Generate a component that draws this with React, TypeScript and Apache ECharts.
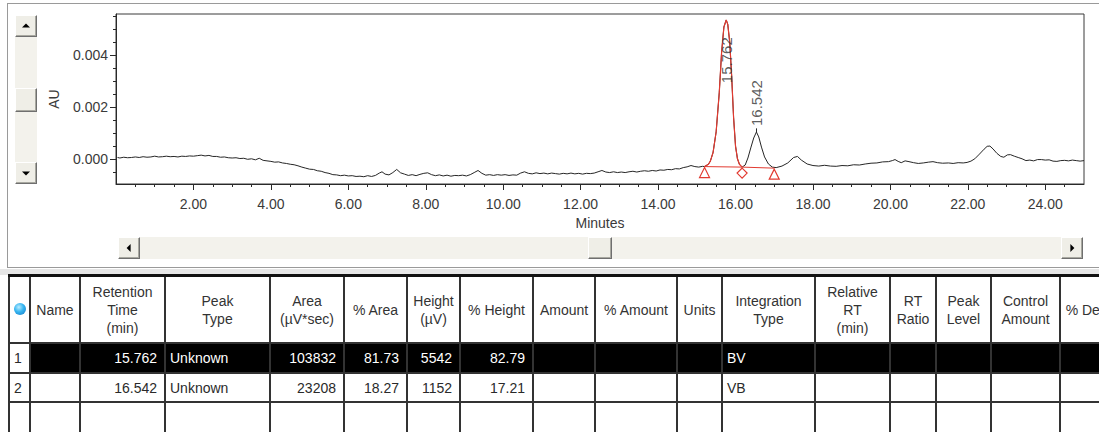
import React, { useEffect, useRef } from "react";
import * as echarts from "echarts";

// ---------- chromatogram data: [minutes, AU] ----------
const tracePoints: [number, number][] = [
  [0.04, 0.00006], [0.1, 0.00004], [0.2, 0.00007], [0.3, 0.00005], [0.4, 0.00006], [0.5, 0.00008], [0.6, 0.00006],
  [0.7, 0.00009], [0.8, 0.00007], [0.9, 0.00008], [1.0, 0.00011], [1.1, 0.00008], [1.2, 0.00009], [1.3, 0.00011],
  [1.4, 0.00009], [1.5, 0.0001], [1.6, 0.00008], [1.7, 0.00011], [1.8, 0.0001], [1.9, 0.00012], [2.0, 0.00011],
  [2.1, 0.00013], [2.2, 0.00015], [2.3, 0.00012], [2.4, 0.00014], [2.5, 0.0001], [2.6, 0.0001], [2.7, 0.00007],
  [2.8, 0.00008], [2.9, 0.00005], [3.0, 0.00004], [3.1, 0.00005], [3.2, 0.00002], [3.3, 0.00003], [3.4, -0.00001],
  [3.5, 0.00001], [3.6, -0.00003], [3.7, 0.00003], [3.8, -0.00005], [3.9, -0.00007], [4.0, -0.00009], [4.1, -0.00012],
  [4.2, -0.00011], [4.3, -0.00015], [4.4, -0.00017], [4.5, -0.0002], [4.6, -0.00022], [4.7, -0.00026], [4.8, -0.00031],
  [4.9, -0.00035], [5.0, -0.00039], [5.1, -0.0004], [5.2, -0.00045], [5.3, -0.00047], [5.4, -0.00052], [5.5, -0.00055],
  [5.6, -0.0006], [5.7, -0.00061], [5.8, -0.00064], [5.9, -0.00062], [6.0, -0.00065], [6.1, -0.00064], [6.2, -0.00067],
  [6.3, -0.00066], [6.4, -0.00068], [6.5, -0.00064], [6.6, -0.00067], [6.7, -0.00063], [6.8, -0.00054], [6.87, -0.00049],
  [6.95, -0.00058], [7.05, -0.00061], [7.15, -0.00052], [7.25, -0.0004], [7.35, -0.00053], [7.45, -0.00058], [7.55, -0.00063],
  [7.65, -0.0006], [7.75, -0.00064], [7.85, -0.00059], [7.95, -0.00055], [8.05, -0.00053], [8.15, -0.0006], [8.25, -0.00064],
  [8.35, -0.00061], [8.45, -0.00065], [8.55, -0.00062], [8.65, -0.00066], [8.75, -0.00063], [8.85, -0.00064], [8.95, -0.00062],
  [9.05, -0.00065], [9.15, -0.0006], [9.25, -0.00052], [9.35, -0.00044], [9.45, -0.00055], [9.55, -0.00062], [9.65, -0.0006],
  [9.75, -0.00063], [9.85, -0.0006], [9.95, -0.00062], [10.05, -0.0006], [10.15, -0.00063], [10.25, -0.00061], [10.35, -0.00062],
  [10.45, -0.00054], [10.55, -0.00049], [10.65, -0.00055], [10.75, -0.00057], [10.85, -0.00053], [10.95, -0.00056], [11.05, -0.00054],
  [11.15, -0.00057], [11.25, -0.00054], [11.35, -0.00056], [11.45, -0.00058], [11.55, -0.00055], [11.65, -0.00057], [11.75, -0.00054],
  [11.85, -0.00057], [11.95, -0.00055], [12.05, -0.00058], [12.15, -0.00055], [12.25, -0.00056], [12.35, -0.00054], [12.45, -0.00049],
  [12.55, -0.00044], [12.65, -0.0005], [12.75, -0.00052], [12.85, -0.00049], [12.95, -0.00052], [13.05, -0.0005], [13.15, -0.00052],
  [13.25, -0.00049], [13.35, -0.00047], [13.45, -0.0005], [13.55, -0.00047], [13.65, -0.00045], [13.75, -0.00047], [13.85, -0.00044],
  [13.95, -0.00046], [14.05, -0.00042], [14.15, -0.00043], [14.25, -0.0004], [14.35, -0.00041], [14.45, -0.00037], [14.55, -0.00038],
  [14.65, -0.00033], [14.75, -0.0003], [14.85, -0.00025], [14.95, -0.00029], [15.05, -0.00031], [15.15, -0.00028], [15.2, -0.00029],
  [15.3, -0.0002], [15.35, -0.00008], [15.42, 0.00025], [15.5, 0.00105], [15.58, 0.00255], [15.64, 0.0041], [15.7, 0.00508],
  [15.76, 0.00535], [15.8, 0.00518], [15.85, 0.0045], [15.9, 0.0032], [15.95, 0.0016], [16.0, 0.0005], [16.05, 0.00001],
  [16.1, -0.0002], [16.17, -0.00031], [16.25, -0.00023], [16.32, 0.00004], [16.4, 0.00046], [16.47, 0.00081], [16.54, 0.00104],
  [16.6, 0.00085], [16.67, 0.00046], [16.75, 0.00008], [16.85, -0.00019], [16.95, -0.00031], [17.05, -0.00033], [17.2, -0.00027],
  [17.35, -0.00015], [17.5, 0.00006], [17.6, 0.0001], [17.7, -0.00004], [17.85, -0.00019], [18.0, -0.00025], [18.15, -0.00027],
  [18.3, -0.00024], [18.45, -0.00027], [18.6, -0.00028], [18.75, -0.00025], [18.9, -0.00026], [19.05, -0.00022], [19.2, -0.00023],
  [19.35, -0.00019], [19.5, -0.00016], [19.65, -0.00015], [19.8, -0.00011], [19.95, -0.0001], [20.05, -0.00006], [20.12, -0.00002],
  [20.2, -0.00009], [20.28, -0.00014], [20.38, -0.00007], [20.48, -0.0001], [20.6, -0.00014], [20.72, -0.00017], [20.85, -0.00015],
  [20.98, -0.00012], [21.1, -0.0001], [21.22, -0.00014], [21.35, -0.00016], [21.5, -0.00015], [21.62, -0.00017], [21.75, -0.00014],
  [21.88, -0.00015], [21.98, -0.00013], [22.08, -0.00008], [22.18, 0.00001], [22.3, 0.00019], [22.42, 0.00038], [22.5, 0.00049],
  [22.57, 0.0005], [22.65, 0.00039], [22.75, 0.00022], [22.85, 0.0001], [22.93, 0.00007], [23.02, 0.00016], [23.1, 0.00017],
  [23.2, 0.00011], [23.3, 0.00006], [23.4, 0.00001], [23.5, -0.00006], [23.6, -0.00004], [23.7, -0.00007], [23.8, -0.00002],
  [23.9, -0.00002], [24.0, -0.00004], [24.1, -0.00003], [24.2, -0.00008], [24.3, -0.00009], [24.4, -0.00006], [24.5, -0.00005],
  [24.6, -0.00007], [24.7, -0.00004], [24.8, -0.00006], [24.9, -0.00008], [25.0, -0.00006],
];

const peakRT = [15.762, 16.542];
const peakApexAU = [0.00535, 0.00104];
const apexTickTopAU = [0.0056, 0.00118];
const peakLabelAU = [0.00292, 0.00127];
const integratedStart = 15.2;
const integratedEnd = 16.17;
const baselineTimes = [15.2, 16.17, 17.0];
const baselineAU = [-0.00029, -0.00031, -0.00035];
const baselineSymbols = ["triangle", "diamond", "triangle"];

const xMajorTicks = [2, 4, 6, 8, 10, 12, 14, 16, 18, 20, 22, 24];
const xMinorTicks = [
  0.5, 1, 1.5, 2.5, 3, 3.5, 4.5, 5, 5.5, 6.5, 7, 7.5, 8.5, 9, 9.5, 10.5, 11, 11.5, 12.5, 13, 13.5,
  14.5, 15, 15.5, 16.5, 17, 17.5, 18.5, 19, 19.5, 20.5, 21, 21.5, 22.5, 23, 23.5, 24.5,
];
const yMajorTicks = [0, 0.002, 0.004];
const yMinorTicks = [-0.0005, 0.0005, 0.001, 0.0015, 0.0025, 0.003, 0.0035, 0.0045, 0.005, 0.0055];

// ---------- peak table data ----------
const headerLabels = [
  "", "Name", "Retention\nTime\n(min)", "Peak\nType", "Area\n(µV*sec)", "% Area", "Height\n(µV)", "% Height",
  "Amount", "% Amount", "Units", "Integration\nType", "Relative\nRT\n(min)", "RT\nRatio", "Peak\nLevel",
  "Control\nAmount", "% Deviation",
];
const peakTypes = ["Unknown", "Unknown"];
const areas = [103832, 23208];
const pctAreas = [81.73, 18.27];
const heights = [5542, 1152];
const pctHeights = [82.79, 17.21];
const integrationTypes = ["BV", "VB"];

const FONT = '"Liberation Sans", Arial, sans-serif';
const RED = "#e23a30";
const colEdges = [9, 30, 80, 165, 270, 344, 407, 460, 533, 595, 677, 722, 815, 890, 936, 991, 1060, 1146];
const rowEdges = [275, 343, 373, 402, 432];
const colAlign = ["left", "left", "right", "left", "right", "right", "right", "right", "right", "right", "left", "left", "right", "right", "right", "right", "right"];

function Arrow({ dir }: { dir: string }) {
  const s = 4;
  const st: any = { width: 0, height: 0, position: "absolute", left: "50%", top: "50%" };
  if (dir === "up") Object.assign(st, { borderLeft: `${s}px solid transparent`, borderRight: `${s}px solid transparent`, borderBottom: `${s}px solid #000`, transform: "translate(-50%,-60%)" });
  if (dir === "down") Object.assign(st, { borderLeft: `${s}px solid transparent`, borderRight: `${s}px solid transparent`, borderTop: `${s}px solid #000`, transform: "translate(-50%,-40%)" });
  if (dir === "left") Object.assign(st, { borderTop: `${s}px solid transparent`, borderBottom: `${s}px solid transparent`, borderRight: `${s}px solid #000`, transform: "translate(-60%,-50%)" });
  if (dir === "right") Object.assign(st, { borderTop: `${s}px solid transparent`, borderBottom: `${s}px solid transparent`, borderLeft: `${s}px solid #000`, transform: "translate(-40%,-50%)" });
  return <div style={st} />;
}

function Btn({ x, y, w, h, dir }: { x: number; y: number; w: number; h: number; dir?: string }) {
  return (
    <div
      style={{
        position: "absolute", left: x, top: y, width: w, height: h, boxSizing: "border-box",
        background: "#efeee7", borderTop: "1px solid #fff", borderLeft: "1px solid #fff",
        borderRight: "1px solid #6f6f6f", borderBottom: "1px solid #6f6f6f",
        boxShadow: "inset -1px -1px 0 #a8a8a0",
      }}
    >
      {dir ? <Arrow dir={dir} /> : null}
    </div>
  );
}

function Chart() {
  const ref = useRef<HTMLDivElement>(null);
  useEffect(() => {
    if (!ref.current) return;
    const chart = echarts.init(ref.current, undefined, { renderer: "svg" });
    const traceData = tracePoints.map((p) => [p[0], p[1]]);
    const integratedData = traceData.filter((d) => d[0] >= integratedStart && d[0] <= integratedEnd);
    const axisColor = "#2a2a2a";
    const labelColor = "#3a3a3a";
    chart.setOption({
      animation: false,
      textStyle: { fontFamily: FONT },
      grid: { left: 116, right: 15, top: 14, height: 170, show: true, borderColor: "#3a3a3a", borderWidth: 1 },
      xAxis: [
        {
          type: "value", min: 0, max: 25,
          name: "Minutes", nameLocation: "middle", nameGap: 32,
          nameTextStyle: { fontSize: 14, color: labelColor, fontFamily: FONT },
          axisLine: { onZero: false, lineStyle: { color: axisColor, width: 1 } },
          axisTick: { customValues: xMajorTicks, length: 6, lineStyle: { color: axisColor } },
          axisLabel: { customValues: xMajorTicks, formatter: (v: number) => v.toFixed(2), margin: 13, fontSize: 14, color: labelColor, fontFamily: FONT },
          splitLine: { show: false },
        },
        {
          type: "value", min: 0, max: 25, position: "bottom",
          axisLine: { show: false, onZero: false },
          axisTick: { customValues: xMinorTicks, length: 3, lineStyle: { color: axisColor } },
          axisLabel: { show: false },
          splitLine: { show: false },
        },
      ],
      yAxis: [
        {
          type: "value", min: -0.00096, max: 0.00558, position: "left",
          name: "AU", nameLocation: "middle", nameRotate: 90, nameGap: 55,
          nameTextStyle: { fontSize: 14, color: labelColor, fontFamily: FONT },
          axisLine: { show: true, onZero: false, lineStyle: { color: axisColor, width: 1 } },
          axisTick: { show: true, customValues: yMajorTicks, length: 6, lineStyle: { color: axisColor } },
          axisLabel: { customValues: yMajorTicks, formatter: (v: number) => v.toFixed(3), margin: 8, fontSize: 14, color: labelColor, fontFamily: FONT },
          splitLine: { show: false },
        },
        {
          type: "value", min: -0.00096, max: 0.00558, position: "left",
          axisLine: { show: false, onZero: false },
          axisTick: { show: true, customValues: yMinorTicks, length: 3, lineStyle: { color: axisColor } },
          axisLabel: { show: false },
          splitLine: { show: false },
        },
      ],
      series: [
        {
          name: "trace", type: "line", data: traceData, showSymbol: false, symbol: "none",
          lineStyle: { color: "#262626", width: 1 }, z: 2,
          markLine: {
            silent: true, symbol: "none", label: { show: false },
            lineStyle: { color: "#262626", width: 1, type: "solid" },
            data: peakRT.map((t, i) => [{ coord: [t, peakApexAU[i]] }, { coord: [t, apexTickTopAU[i]] }]),
          },
        },
        {
          name: "integrated", type: "line", data: integratedData, showSymbol: false, symbol: "none",
          lineStyle: { color: RED, width: 1.2 }, z: 3,
        },
        {
          name: "baseline", type: "line", z: 4,
          data: baselineTimes.map((t, i) => ({ value: [t, baselineAU[i]], symbol: baselineSymbols[i] })),
          showSymbol: true, symbolSize: 10, symbolOffset: [0, 6],
          lineStyle: { color: RED, width: 1 },
          itemStyle: { color: "#fff", borderColor: RED, borderWidth: 1.2 },
        },
        {
          name: "peakLabels", type: "scatter", z: 5, symbolSize: 0,
          data: peakRT.map((t, i) => [t, peakLabelAU[i]]),
          label: {
            show: true, position: "inside", rotate: 90, align: "left", verticalAlign: "middle",
            formatter: (p: any) => p.value[0].toFixed(3), fontSize: 15, color: "#333", fontFamily: FONT,
          },
        },
      ],
    });
    return () => chart.dispose();
  }, []);
  return <div ref={ref} style={{ position: "absolute", left: 0, top: 0, width: 1099, height: 268 }} />;
}

function Table() {
  const els: any[] = [];
  const rows = [0, 1];
  els.push(<div key="blackrow" style={{ position: "absolute", left: colEdges[1], top: rowEdges[1], width: 1146 - colEdges[1], height: rowEdges[2] - rowEdges[1], background: "#000" }} />);
  els.push(
    <div key="icon" style={{ position: "absolute", left: 14, top: 303, width: 12, height: 12, borderRadius: 6, background: "radial-gradient(circle at 40% 35%, #b8ecff 0%, #35b4f0 45%, #1477c4 100%)" }} />
  );
  headerLabels.forEach((h, c) => {
    if (!h) return;
    els.push(
      <div key={"h" + c} style={{ position: "absolute", left: colEdges[c] + 1, top: rowEdges[0] + 2, width: colEdges[c + 1] - colEdges[c] - 2, height: rowEdges[1] - rowEdges[0] - 2, display: "flex", alignItems: "center", justifyContent: "center", textAlign: "center", whiteSpace: "pre-line", lineHeight: "18px", fontSize: 14, color: "#333", overflow: "visible" }}>
        {h}
      </div>
    );
  });
  rows.forEach((r) => {
    const cells = [
      String(r + 1), "", peakRT[r].toFixed(3), peakTypes[r], String(areas[r]), pctAreas[r].toFixed(2), String(heights[r]),
      pctHeights[r].toFixed(2), "", "", "", integrationTypes[r], "", "", "", "", "",
    ];
    const top = rowEdges[r + 1];
    const h = rowEdges[r + 2] - top;
    cells.forEach((txt, c) => {
      if (!txt) return;
      const dark = r === 0 && c > 0;
      const al = colAlign[c];
      els.push(
        <div key={"c" + r + "_" + c} style={{ position: "absolute", left: colEdges[c] + 1, top, width: colEdges[c + 1] - colEdges[c] - 2, height: h, display: "flex", alignItems: "center", justifyContent: al === "right" ? "flex-end" : "flex-start", boxSizing: "border-box", paddingLeft: al === "left" ? 4 : 0, paddingRight: al === "right" ? 7 : 0, fontSize: 14, color: dark ? "#fff" : "#2a2a2a", whiteSpace: "nowrap" }}>
          {txt}
        </div>
      );
    });
  });
  colEdges.forEach((x, i) => {
    els.push(<div key={"v" + i} style={{ position: "absolute", left: x - 1, top: rowEdges[0], width: 2, height: 432 - rowEdges[0], background: "#333" }} />);
  });
  rowEdges.forEach((y, i) => {
    if (i === rowEdges.length - 1) return;
    els.push(<div key={"r" + i} style={{ position: "absolute", left: colEdges[0] - 1, top: y - 1, width: 1146, height: i === 0 ? 3 : 2, background: i === 0 ? "#111" : "#333" }} />);
  });
  return <>{els}</>;
}

export default function App() {
  return (
    <div style={{ position: "fixed", left: 0, top: 0, width: 1099, height: 432, background: "#fff", overflow: "hidden", fontFamily: FONT }}>
      <div style={{ position: "absolute", left: 7, top: 3, width: 1200, height: 265, boxSizing: "border-box", borderTop: "1px solid #9a9a9a", borderLeft: "1px solid #9a9a9a", borderBottom: "1px solid #9a9a9a" }} />
      <div style={{ position: "absolute", left: 0, top: 269, width: 1099, height: 6, background: "#e6e6e6" }} />
      <div style={{ position: "absolute", left: 15, top: 15, width: 22, height: 169, background: "#f3f2ec" }} />
      <Btn x={15} y={15} w={22} h={22} dir="up" />
      <Btn x={15} y={88} w={22} h={24} />
      <Btn x={15} y={162} w={22} h={22} dir="down" />
      <div style={{ position: "absolute", left: 118, top: 237, width: 965, height: 22, background: "#f3f2ec" }} />
      <Btn x={118} y={237} w={22} h={22} dir="left" />
      <Btn x={588} y={237} w={24} h={22} />
      <Btn x={1061} y={237} w={22} h={22} dir="right" />
      <Chart />
      <Table />
    </div>
  );
}
